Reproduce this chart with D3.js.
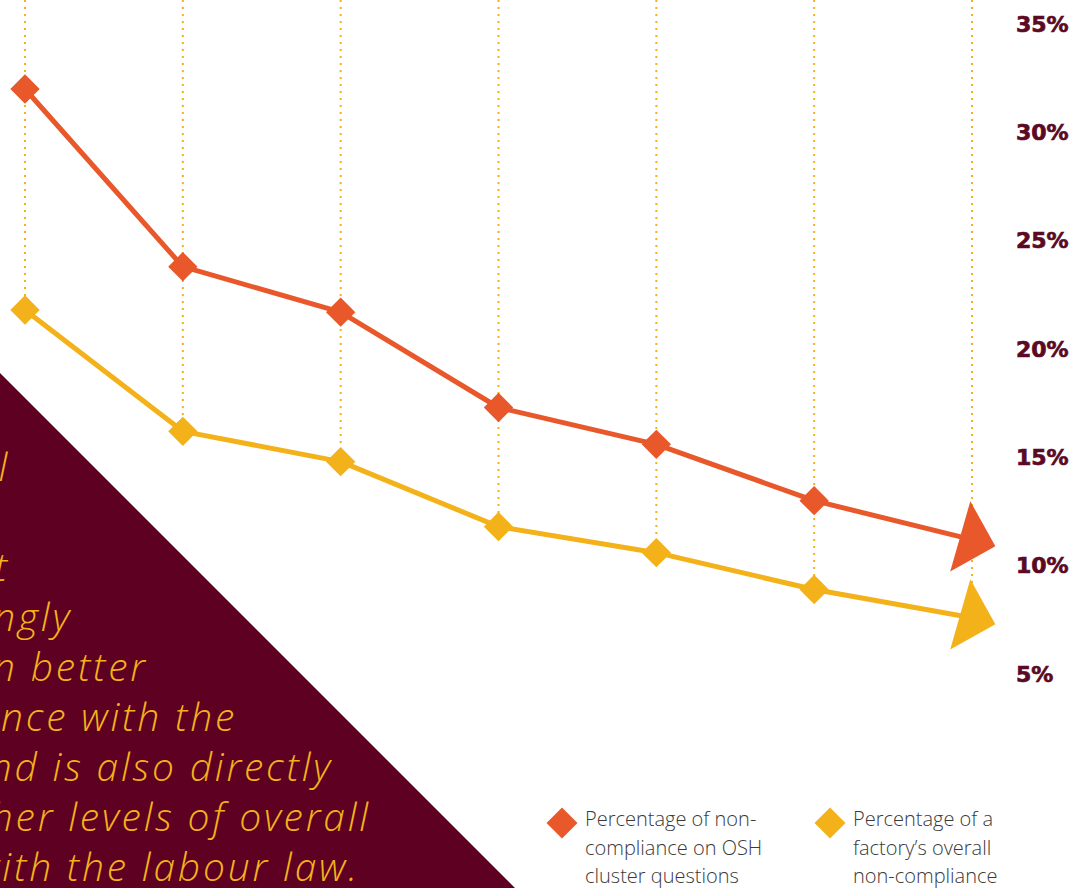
<!DOCTYPE html>
<html>
<head>
<meta charset="utf-8">
<script src="https://cdn.jsdelivr.net/npm/d3@7"></script>
<style>
body{margin:0;background:#fff}
svg{display:block}
</style>
</head>
<body>
<div id="chart"></div>
<script>
// data
var steps = ["1", "2", "3", "4", "5", "6", "7"];
var oshValues = [32.0, 23.8, 21.7, 17.3, 15.6, 13.0, 11.2];
var overallValues = [21.8, 16.2, 14.8, 11.8, 10.6, 8.9, 7.6];
var yTicks = [5, 10, 15, 20, 25, 30, 35];
var legendOsh = ["Percentage of non-", "compliance on OSH", "cluster questions"];
var legendOverall = ["Percentage of a", "factory\u2019s overall", "non-compliance"];
var noteLines = ["Data show that OSH is crucial", "", "and that", "improving OSH is strongly",
	"associated with results in better", "compliance with the",
	"standards and is also directly", "linked to higher levels of overall",
	"compliance with the labour law."];

// layout
var noteRight = [10, 0, 10, 72, 148, 237, 333, 371, 360];
var orange = "#e8582a", yellow = "#f3b21a", maroon = "#5e0021", labelColor = "#5a0a24";
var w = 1088, h = 888;
var arrowAngle = 16;

var svg = d3.select("#chart").append("svg")
	.attr("width", w)
	.attr("height", h);

var x = d3.scalePoint().domain(steps).range([25, 972]);
var y = d3.scaleLinear().domain([5, 35]).range([674, 24]);

// dotted guides, from the top down to the lower series
svg.selectAll(".guide")
	.data(steps)
	.enter().append("line")
	.attr("class", "guide")
	.attr("x1", function(d){ return x(d); })
	.attr("x2", function(d){ return x(d); })
	.attr("y1", 0)
	.attr("y2", function(d, i){ return y(overallValues[i]); })
	.attr("stroke", yellow)
	.attr("stroke-width", 2)
	.attr("stroke-dasharray", "2,5");

// maroon corner with the note
svg.append("path")
	.attr("d", "M0,373 L515,888 L0,888 Z")
	.attr("fill", maroon);

svg.append("g").selectAll("text")
	.data(noteLines)
	.enter().append("text")
	.attr("x", function(d, i){ return noteRight[i]; })
	.attr("y", function(d, i){ return 481 + i*50; })
	.attr("text-anchor", "end")
	.style("font-family", "'Open Sans', sans-serif")
	.style("font-weight", 300)
	.style("font-style", "italic")
	.style("font-size", "39px")
	.style("letter-spacing", "2.8px")
	.attr("fill", yellow)
	.text(String);

// right axis labels
var yAxis = d3.axisRight(y)
	.tickValues(yTicks)
	.tickSize(0)
	.tickPadding(0)
	.tickFormat(function(d){ return d + "%"; });
var ax = svg.append("g")
	.attr("transform", "translate(1016,0)")
	.call(yAxis);
ax.select(".domain").remove();
ax.selectAll("text")
	.attr("fill", labelColor)
	.attr("stroke", labelColor)
	.attr("stroke-width", 0.7)
	.style("font-family", "'DejaVu Sans', sans-serif")
	.style("font-weight", "bold")
	.style("font-size", "22px");

var diamond = d3.symbol().type(d3.symbolSquare).size(430);
var line = d3.line()
	.x(function(d, i){ return x(steps[i]); })
	.y(function(d){ return y(d); });

function drawSeries(values, color){
	svg.append("path")
		.datum(values)
		.attr("d", line)
		.attr("fill", "none")
		.attr("stroke", color)
		.attr("stroke-width", 5)
		.attr("stroke-linejoin", "round");
	var last = values.length - 1;
	svg.selectAll(null)
		.data(values.slice(0, last))
		.enter().append("path")
		.attr("d", diamond)
		.attr("transform", function(d, i){ return "translate(" + x(steps[i]) + "," + y(d) + ") rotate(45)"; })
		.attr("fill", color);
	// arrow head at the end, centred on the last value
	svg.append("path")
		.attr("d", "M24.3,0 L-12.2,-36.5 L-12.2,36.5 Z")
		.attr("transform", "translate(" + x(steps[last]) + "," + y(values[last]) + ") rotate(" + arrowAngle + ")")
		.attr("fill", color);
}
drawSeries(oshValues, orange);
drawSeries(overallValues, yellow);

// legend
function legendItem(lx, color, lines){
	var g = svg.append("g").attr("transform", "translate(" + lx + ",0)");
	g.append("path")
		.attr("d", d3.symbol().type(d3.symbolSquare).size(480))
		.attr("transform", "translate(0,823) rotate(45)")
		.attr("fill", color);
	g.selectAll("text")
		.data(lines)
		.enter().append("text")
		.attr("x", 23)
		.attr("y", function(d, i){ return 826 + i*28.5; })
		.attr("fill", "#3a3a3a")
		.style("font-family", "'Open Sans', sans-serif")
		.style("font-weight", 300)
		.style("font-size", "20px")
		.text(String);
}
legendItem(562, orange, legendOsh);
legendItem(830, yellow, legendOverall);
</script>
</body>
</html>
